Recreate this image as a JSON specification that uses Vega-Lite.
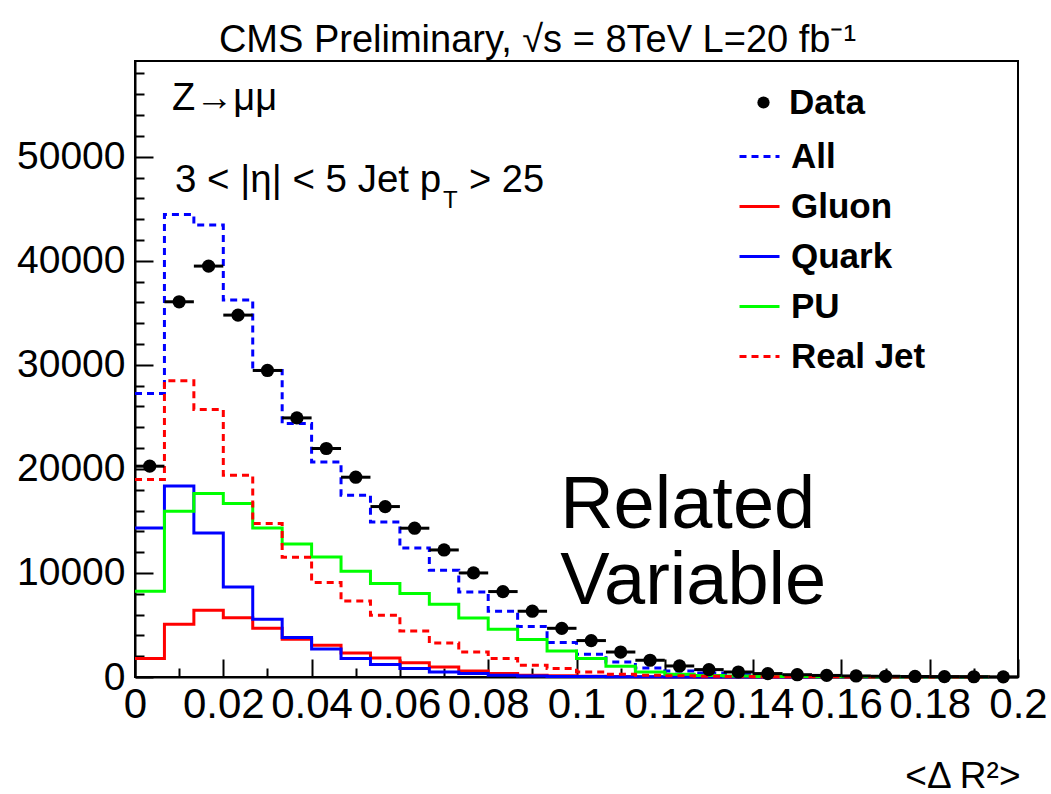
{
  "$schema": "https://vega.github.io/schema/vega-lite/v6.json",
  "width": 883,
  "height": 616,
  "autosize": {"type": "none"},
  "padding": {"left": 135, "top": 61, "right": 33, "bottom": 117},
  "background": "white",
  "title": {"text": "CMS Preliminary, √s = 8TeV L=20 fb⁻¹", "font": "Liberation Sans", "fontSize": 38, "fontWeight": "normal", "color": "black", "anchor": "middle", "dx": -39, "dy": 40, "offset": 11, "baseline": "alphabetic"},
  "config": {
    "font": "Liberation Sans",
    "view": {"stroke": "black", "strokeWidth": 2},
    "axis": {"grid": false, "domainColor": "black", "domainWidth": 2, "tickColor": "black", "tickWidth": 2, "labelColor": "black", "labelFont": "Liberation Sans", "labelFontSize": 37, "titleFont": "Liberation Sans", "titleColor": "black", "titleFontWeight": "normal", "labelOverlap": false, "labelFlush": false}
  },
  "resolve": {"axis": {"y": "independent"}},
  "data": {"values": [
    {"lo": 0, "mid": 0.003333, "hi": 0.006667, "Data": 20260, "All": 27250, "Gluon": 1770, "Quark": 14330, "PU": 8240, "Real Jet": 18980},
    {"lo": 0.006667, "mid": 0.01, "hi": 0.013333, "Data": 36060, "All": 44460, "Gluon": 5070, "Quark": 18360, "PU": 15930, "Real Jet": 28460},
    {"lo": 0.013333, "mid": 0.016667, "hi": 0.02, "Data": 39490, "All": 43430, "Gluon": 6410, "Quark": 13850, "PU": 17630, "Real Jet": 25710},
    {"lo": 0.02, "mid": 0.023333, "hi": 0.026667, "Data": 34780, "All": 36220, "Gluon": 5690, "Quark": 8650, "PU": 16670, "Real Jet": 19390},
    {"lo": 0.026667, "mid": 0.03, "hi": 0.033333, "Data": 29460, "All": 29460, "Gluon": 4680, "Quark": 5550, "PU": 14330, "Real Jet": 14750},
    {"lo": 0.033333, "mid": 0.036667, "hi": 0.04, "Data": 24900, "All": 24360, "Gluon": 3620, "Quark": 3800, "PU": 12790, "Real Jet": 11510},
    {"lo": 0.04, "mid": 0.043333, "hi": 0.046667, "Data": 21960, "All": 20670, "Gluon": 3050, "Quark": 2690, "PU": 11540, "Real Jet": 9080},
    {"lo": 0.046667, "mid": 0.05, "hi": 0.053333, "Data": 19200, "All": 17470, "Gluon": 2310, "Quark": 1770, "PU": 10160, "Real Jet": 7310},
    {"lo": 0.053333, "mid": 0.056667, "hi": 0.06, "Data": 16380, "All": 14900, "Gluon": 1830, "Quark": 1190, "PU": 8980, "Real Jet": 5930},
    {"lo": 0.06, "mid": 0.063333, "hi": 0.066667, "Data": 14300, "All": 12400, "Gluon": 1380, "Quark": 810, "PU": 8020, "Real Jet": 4420},
    {"lo": 0.066667, "mid": 0.07, "hi": 0.073333, "Data": 12210, "All": 10260, "Gluon": 960, "Quark": 480, "PU": 6990, "Real Jet": 3270},
    {"lo": 0.073333, "mid": 0.076667, "hi": 0.08, "Data": 10000, "All": 8170, "Gluon": 580, "Quark": 330, "PU": 5670, "Real Jet": 2400},
    {"lo": 0.08, "mid": 0.083333, "hi": 0.086667, "Data": 8210, "All": 6320, "Gluon": 330, "Quark": 160, "PU": 4590, "Real Jet": 1770},
    {"lo": 0.086667, "mid": 0.09, "hi": 0.093333, "Data": 6320, "All": 4850, "Gluon": 160, "Quark": 100, "PU": 3600, "Real Jet": 1120},
    {"lo": 0.093333, "mid": 0.096667, "hi": 0.1, "Data": 4680, "All": 3310, "Gluon": 110, "Quark": 60, "PU": 2500, "Real Jet": 810},
    {"lo": 0.1, "mid": 0.103333, "hi": 0.106667, "Data": 3500, "All": 2180, "Gluon": 70, "Quark": 40, "PU": 1770, "Real Jet": 480},
    {"lo": 0.106667, "mid": 0.11, "hi": 0.113333, "Data": 2400, "All": 1440, "Gluon": 45, "Quark": 25, "PU": 1030, "Real Jet": 260},
    {"lo": 0.113333, "mid": 0.116667, "hi": 0.12, "Data": 1610, "All": 870, "Gluon": 30, "Quark": 15, "PU": 480, "Real Jet": 180},
    {"lo": 0.12, "mid": 0.123333, "hi": 0.126667, "Data": 1060, "All": 580, "Gluon": 20, "Quark": 10, "PU": 260, "Real Jet": 120},
    {"lo": 0.126667, "mid": 0.13, "hi": 0.133333, "Data": 710, "All": 380, "Gluon": 12, "Quark": 8, "PU": 150, "Real Jet": 80},
    {"lo": 0.133333, "mid": 0.136667, "hi": 0.14, "Data": 480, "All": 250, "Gluon": 8, "Quark": 5, "PU": 90, "Real Jet": 50},
    {"lo": 0.14, "mid": 0.143333, "hi": 0.146667, "Data": 330, "All": 170, "Gluon": 5, "Quark": 3, "PU": 60, "Real Jet": 35},
    {"lo": 0.146667, "mid": 0.15, "hi": 0.153333, "Data": 220, "All": 110, "Gluon": 3, "Quark": 2, "PU": 40, "Real Jet": 25},
    {"lo": 0.153333, "mid": 0.156667, "hi": 0.16, "Data": 150, "All": 75, "Gluon": 2, "Quark": 1, "PU": 25, "Real Jet": 15},
    {"lo": 0.16, "mid": 0.163333, "hi": 0.166667, "Data": 100, "All": 50, "Gluon": 1, "Quark": 1, "PU": 15, "Real Jet": 10},
    {"lo": 0.166667, "mid": 0.17, "hi": 0.173333, "Data": 70, "All": 35, "Gluon": 1, "Quark": 0, "PU": 10, "Real Jet": 8},
    {"lo": 0.173333, "mid": 0.176667, "hi": 0.18, "Data": 50, "All": 25, "Gluon": 0, "Quark": 0, "PU": 8, "Real Jet": 5},
    {"lo": 0.18, "mid": 0.183333, "hi": 0.186667, "Data": 35, "All": 15, "Gluon": 0, "Quark": 0, "PU": 5, "Real Jet": 3},
    {"lo": 0.186667, "mid": 0.19, "hi": 0.193333, "Data": 25, "All": 10, "Gluon": 0, "Quark": 0, "PU": 3, "Real Jet": 2},
    {"lo": 0.193333, "mid": 0.196667, "hi": 0.2, "Data": 15, "All": 8, "Gluon": 0, "Quark": 0, "PU": 2, "Real Jet": 1}
  ]},
  "layer": [
    {
      "transform": [{"fold": ["All", "Gluon", "Quark", "PU", "Real Jet"], "as": ["series", "count"]}],
      "mark": {"type": "line", "interpolate": "step-after", "strokeWidth": 3},
      "encoding": {
        "x": {"field": "lo", "type": "quantitative", "title": "<Δ R²>", "scale": {"domain": [0, 0.2], "nice": false, "zero": false},
          "axis": {
            "values": [0, 0.005, 0.01, 0.015, 0.02, 0.025, 0.03, 0.035, 0.04, 0.045, 0.05, 0.055, 0.06, 0.065, 0.07, 0.075, 0.08, 0.085, 0.09, 0.095, 0.1, 0.105, 0.11, 0.115, 0.12, 0.125, 0.13, 0.135, 0.14, 0.145, 0.15, 0.155, 0.16, 0.165, 0.17, 0.175, 0.18, 0.185, 0.19, 0.195, 0.2],
            "labelExpr": "abs(datum.value*50 - round(datum.value*50)) < 0.000001 ? format(datum.value, '~g') : ''",
            "tickSize": {"condition": {"test": "abs(datum.value*50 - round(datum.value*50)) < 0.000001", "value": -18}, "value": -9},
            "labelPadding": 25,
            "labelFontSize": {"condition": {"test": "abs(datum.value*50 - round(datum.value*50)) < 0.000001", "value": 42}, "value": 0},
            "labelOverlap": false,
            "titleAnchor": "end", "titleAlign": "right", "titleX": 885, "titleY": 110, "titleBaseline": "alphabetic", "titleFontSize": 37
          }},
        "y": {"field": "count", "type": "quantitative", "title": null, "scale": {"domain": [0, 59200], "nice": false},
          "axis": {
            "orient": "left",
            "values": [0, 10000, 20000, 30000, 40000, 50000],
            "format": "d",
            "tickSize": -18,
            "labelPadding": 28,
            "labelFontSize": 39,
            "labelOverlap": false
          }},
        "color": {"field": "series", "type": "nominal",
          "scale": {"domain": ["All", "Gluon", "Quark", "PU", "Real Jet"], "range": ["#0000ff", "#ff0000", "#0000ff", "#00ff00", "#ff0000"]},
          "legend": {"title": null, "orient": "none", "legendX": 603, "legendY": 74, "symbolType": "stroke", "symbolSize": 1600, "symbolStrokeWidth": 3, "labelFontSize": 35, "labelFontWeight": "bold", "labelFont": "Liberation Sans", "labelColor": "black", "rowPadding": 10, "labelOffset": 10, "padding": 0}},
        "strokeDash": {"field": "series", "type": "nominal",
          "scale": {"domain": ["All", "Gluon", "Quark", "PU", "Real Jet"], "range": [[7, 5], [1, 0], [1, 0], [1, 0], [7, 5]]},
          "legend": {"title": null, "orient": "none", "legendX": 603, "legendY": 74, "symbolType": "stroke", "symbolSize": 1600, "symbolStrokeWidth": 3, "labelFontSize": 35, "labelFontWeight": "bold", "labelFont": "Liberation Sans", "labelColor": "black", "rowPadding": 10, "labelOffset": 10, "padding": 0}}
      }
    },
    {
      "mark": {"type": "rule", "color": "black", "strokeWidth": 3},
      "encoding": {
        "x": {"field": "lo", "type": "quantitative", "title": "<Δ R²>"},
        "x2": {"field": "hi"},
        "y": {"field": "Data", "type": "quantitative", "title": null,
          "axis": {
            "orient": "left",
            "values": [2000, 4000, 6000, 8000, 12000, 14000, 16000, 18000, 22000, 24000, 26000, 28000, 32000, 34000, 36000, 38000, 42000, 44000, 46000, 48000, 52000, 54000, 56000, 58000],
            "tickSize": -9,
            "labels": false,
            "domain": false
          }}
      }
    },
    {
      "mark": {"type": "point", "filled": true, "color": "black", "size": 175, "opacity": 1},
      "encoding": {
        "x": {"field": "mid", "type": "quantitative", "title": "<Δ R²>"},
        "y": {"field": "Data", "type": "quantitative", "title": null, "axis": null},
        "shape": {"datum": "Data", "type": "nominal", "scale": {"range": ["circle"]},
          "legend": {"title": null, "orient": "none", "legendX": 611, "legendY": 24, "symbolSize": 150, "symbolFillColor": "black", "symbolStrokeColor": "black", "labelFontSize": 35, "labelFontWeight": "bold", "labelFont": "Liberation Sans", "labelColor": "black", "labelOffset": 8, "padding": 0}}
      }
    },
    {
      "data": {"values": [{}]},
      "mark": {"type": "text", "text": "Z→μμ", "align": "left", "baseline": "alphabetic", "fontSize": 38, "font": "Liberation Sans", "color": "black"},
      "encoding": {"x": {"datum": 0.0084}, "y": {"datum": 54490, "axis": null}}
    },
    {
      "data": {"values": [{}]},
      "mark": {"type": "text", "text": "3 < |η| < 5 Jet p", "align": "left", "baseline": "alphabetic", "fontSize": 38.5, "font": "Liberation Sans", "color": "black"},
      "encoding": {"x": {"datum": 0.00906}, "y": {"datum": 46600, "axis": null}}
    },
    {
      "data": {"values": [{}]},
      "mark": {"type": "text", "text": "T", "align": "left", "baseline": "alphabetic", "fontSize": 24, "font": "Liberation Sans", "color": "black"},
      "encoding": {"x": {"datum": 0.06976}, "y": {"datum": 45060, "axis": null}}
    },
    {
      "data": {"values": [{}]},
      "mark": {"type": "text", "text": "> 25", "align": "left", "baseline": "alphabetic", "fontSize": 38, "font": "Liberation Sans", "color": "black"},
      "encoding": {"x": {"datum": 0.07565}, "y": {"datum": 46600, "axis": null}}
    },
    {
      "data": {"values": [{}]},
      "mark": {"type": "text", "text": "Related", "align": "left", "baseline": "alphabetic", "fontSize": 74, "font": "Liberation Sans", "color": "black"},
      "encoding": {"x": {"datum": 0.0963}, "y": {"datum": 14300, "axis": null}}
    },
    {
      "data": {"values": [{}]},
      "mark": {"type": "text", "text": "Variable", "align": "left", "baseline": "alphabetic", "fontSize": 74, "font": "Liberation Sans", "color": "black"},
      "encoding": {"x": {"datum": 0.0963}, "y": {"datum": 6990, "axis": null}}
    }
  ]
}
